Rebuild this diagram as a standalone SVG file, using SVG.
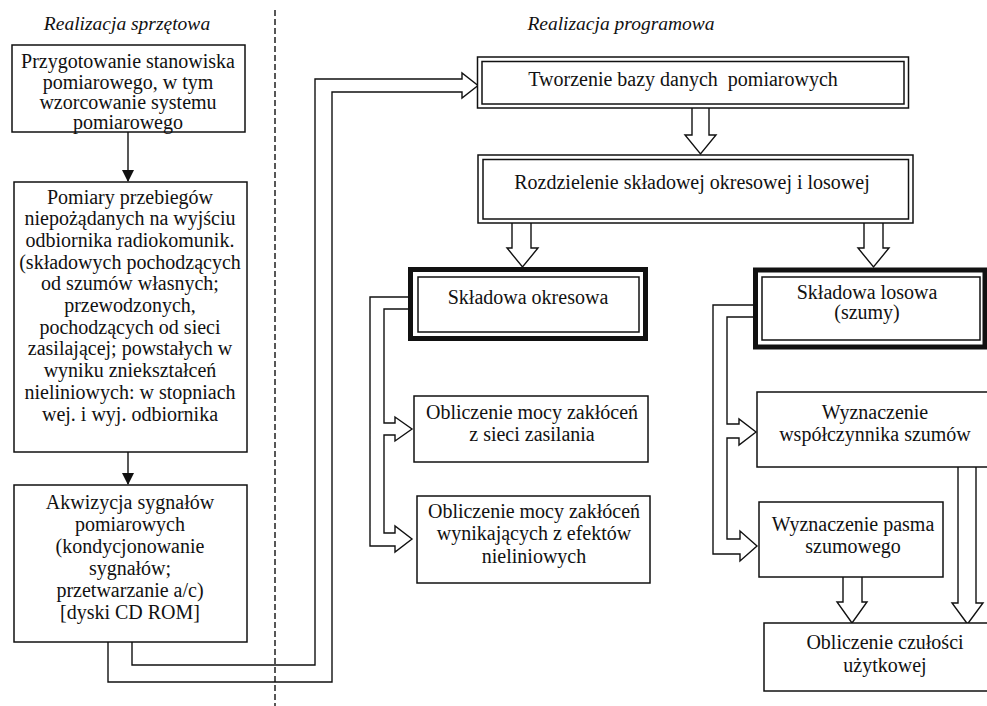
<svg xmlns="http://www.w3.org/2000/svg" width="987" height="706" viewBox="0 0 987 706">
<defs>
<style>
.t{font-family:"Liberation Serif","Times New Roman",serif;font-size:20px;fill:#111;text-anchor:middle}
.h{font-family:"Liberation Serif","Times New Roman",serif;font-size:19.5px;font-style:italic;fill:#111;text-anchor:middle}
.b{fill:#fff;stroke:#111;stroke-width:1.5}
.bn{fill:none;stroke:#111;stroke-width:1.5}
.thick{fill:#fff;stroke:#111;stroke-width:5}
.ln{fill:none;stroke:#111;stroke-width:1.4}
.ha{fill:#fff;stroke:#111;stroke-width:1.4;stroke-linejoin:miter}
</style>
<marker id="ah" viewBox="0 0 12 12" refX="11" refY="6" markerWidth="12" markerHeight="12" markerUnits="userSpaceOnUse" orient="auto">
<path d="M0,0 L12,6 L0,12 Z" fill="#111"/>
</marker>
</defs>
<rect width="987" height="706" fill="#fff"/>

<text class="h" x="127" y="30">Realizacja sprzętowa</text>
<text class="h" x="621" y="30">Realizacja programowa</text>
<line x1="275" y1="10" x2="275" y2="706" stroke="#111" stroke-width="1.4" stroke-dasharray="6 3"/>

<g id="connectors">
<line class="ln" x1="128" y1="132" x2="128" y2="181" marker-end="url(#ah)"/>
<line class="ln" x1="128" y1="452" x2="128" y2="484" marker-end="url(#ah)"/>
<polyline class="ln" points="132,642 132,665 315,665 315,79 462,79 462,73 478,85.5 462,98 462,92 332,92 332,682 108,682 108,642"/>
<polyline class="ha" points="692,108 692,135 685,135 700.5,154 716,135 709,135 709,108"/>
<polyline class="ha" points="512,223 512,248 507,248 522.5,267 538,248 531,248 531,223"/>
<polyline class="ha" points="864,223 864,248 858,248 873.5,267 889,248 883,248 883,223"/>
<polyline class="ha" points="843,577 843,602 837,602 852,623 867,602 862,602 862,577"/>
<polyline class="ha" points="958,467 958,603 952,603 967.5,624 983,603 976,603 976,467"/>
<polyline class="ln" points="410,297 370,297 370,546 395,546 395,552 412,539 395,526 395,533 384,533 384,435 395,435 395,441 412,429 395,417 395,423 384,423 384,309 410,309"/>
<polyline class="ln" points="755,305 713,305 713,554 740,554 740,561 757,546 740,531 740,539 727,539 727,438 739,438 739,445 756,432 739,419 739,424 727,424 727,317 755,317"/>
</g>

<g id="n1">
<rect class="b" x="12" y="45" width="233" height="87"/>
<text class="t" x="128" y="68">Przygotowanie stanowiska</text>
<text class="t" x="128" y="88.5">pomiarowego, w tym</text>
<text class="t" x="128" y="109">wzorcowanie systemu</text>
<text class="t" x="128" y="129">pomiarowego</text>
</g>

<g id="n2">
<rect class="b" x="14" y="182" width="233" height="270"/>
<text class="t" x="130" y="203.5">Pomiary przebiegów</text>
<text class="t" x="130" y="225.2">niepożądanych na wyjściu</text>
<text class="t" x="130" y="246.9">odbiornika radiokomunik.</text>
<text class="t" x="130" y="268.6">(składowych pochodzących</text>
<text class="t" x="130" y="290.3">od szumów własnych;</text>
<text class="t" x="130" y="312">przewodzonych,</text>
<text class="t" x="130" y="333.7">pochodzących od sieci</text>
<text class="t" x="130" y="355.4">zasilającej; powstałych w</text>
<text class="t" x="130" y="377.1">wyniku zniekształceń</text>
<text class="t" x="130" y="398.8">nieliniowych: w stopniach</text>
<text class="t" x="130" y="420.5">wej. i wyj. odbiornika</text>
</g>

<g id="n3">
<rect class="b" x="14" y="485" width="233" height="157"/>
<text class="t" x="130" y="508.5">Akwizycja sygnałów</text>
<text class="t" x="130" y="530.5">pomiarowych</text>
<text class="t" x="130" y="552.5">(kondycjonowanie</text>
<text class="t" x="130" y="574.5">sygnałów;</text>
<text class="t" x="130" y="596.5">przetwarzanie a/c)</text>
<text class="t" x="130" y="618.5">[dyski CD ROM]</text>
</g>

<g id="n4">
<rect class="b" x="477.5" y="57" width="431" height="51"/>
<rect class="bn" x="482" y="61.5" width="422" height="42.5"/>
<text class="t" x="683" y="86" xml:space="preserve">Tworzenie bazy danych  pomiarowych</text>
</g>

<g id="n5">
<rect class="b" x="478" y="155" width="435" height="68"/>
<rect class="bn" x="483" y="159.5" width="425.5" height="59.5"/>
<text class="t" x="692" y="189">Rozdzielenie składowej okresowej i losowej</text>
</g>

<g id="n6">
<rect class="thick" x="410.5" y="269.5" width="235" height="69"/>
<rect class="bn" x="418" y="277" width="221" height="55"/>
<text class="t" x="528" y="304">Składowa okresowa</text>
</g>

<g id="n7">
<rect class="thick" x="755.5" y="270" width="229.5" height="77"/>
<rect class="bn" x="762" y="277" width="218" height="63"/>
<text class="t" x="867" y="299">Składowa losowa</text>
<text class="t" x="867" y="319">(szumy)</text>
</g>

<g id="n8">
<rect class="b" x="414" y="396" width="234" height="66"/>
<text class="t" x="532" y="418.5">Obliczenie mocy zakłóceń</text>
<text class="t" x="532" y="441">z sieci zasilania</text>
</g>

<g id="n9">
<rect class="b" x="417" y="496" width="233" height="87"/>
<text class="t" x="534" y="517.5">Obliczenie mocy zakłóceń</text>
<text class="t" x="534" y="540">wynikających z efektów</text>
<text class="t" x="534" y="562.5">nieliniowych</text>
</g>

<g id="n10">
<rect class="b" x="757" y="392" width="240" height="75"/>
<text class="t" x="875" y="418.5">Wyznaczenie</text>
<text class="t" x="875" y="441">współczynnika szumów</text>
</g>

<g id="n11">
<rect class="b" x="759" y="502" width="184" height="75"/>
<text class="t" x="853" y="530.5">Wyznaczenie pasma</text>
<text class="t" x="853" y="553">szumowego</text>
</g>

<g id="n12">
<rect class="b" x="764" y="623" width="233" height="68"/>
<text class="t" x="885" y="648.5">Obliczenie czułości</text>
<text class="t" x="885" y="672">użytkowej</text>
</g>
</svg>
